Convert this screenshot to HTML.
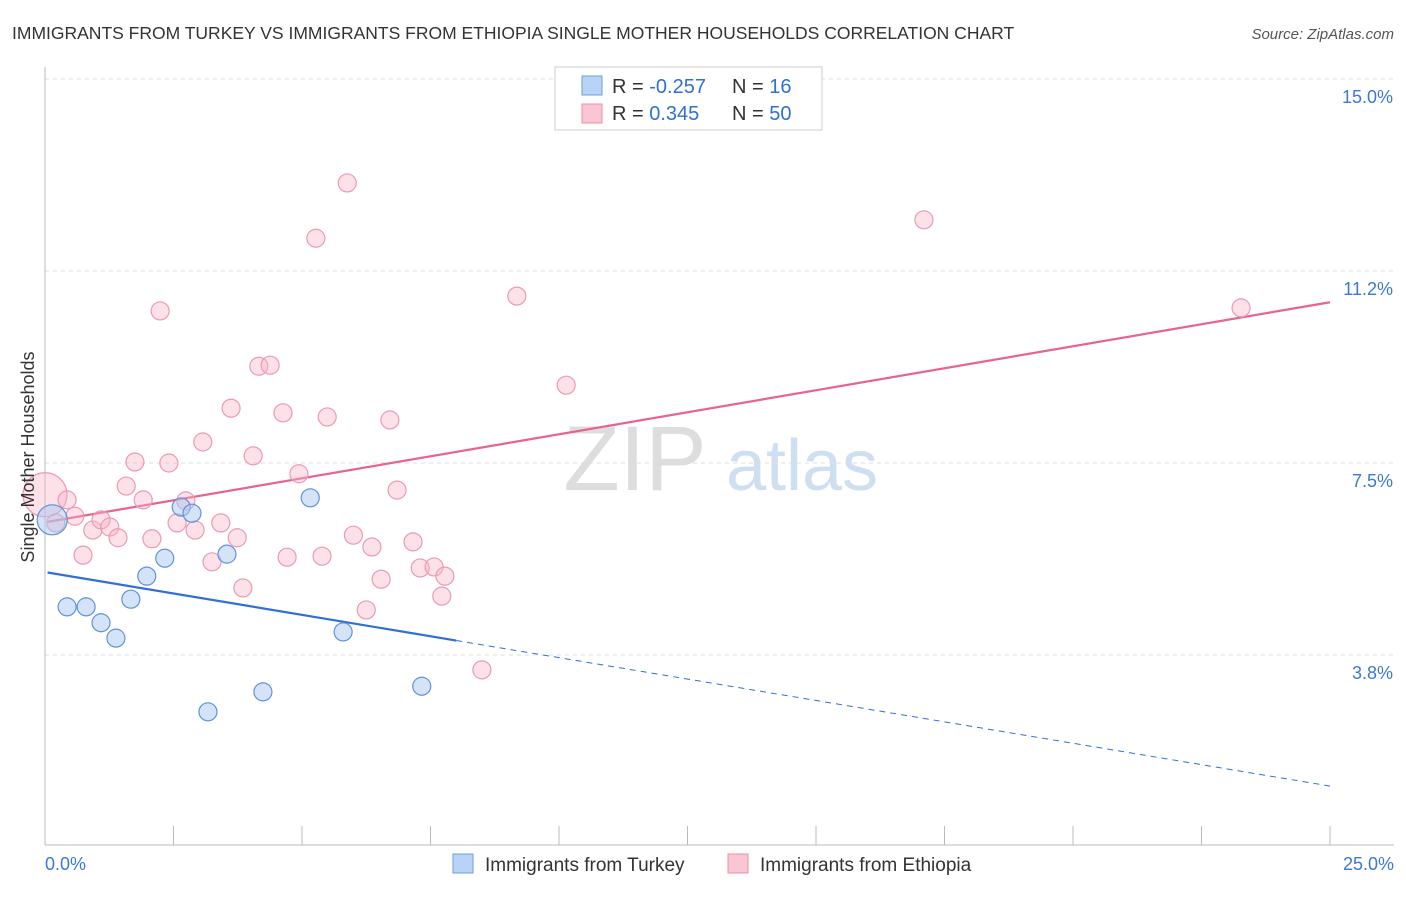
<!DOCTYPE html>
<html><head><meta charset="utf-8"><style>
body{margin:0;background:#fff;font-family:"Liberation Sans",sans-serif}
svg text{font-family:"Liberation Sans",sans-serif}
</style></head><body>
<svg id="chart" width="1406" height="892" xmlns="http://www.w3.org/2000/svg">
<text x="12" y="39" font-size="17.5" fill="#333">IMMIGRANTS FROM TURKEY VS IMMIGRANTS FROM ETHIOPIA SINGLE MOTHER HOUSEHOLDS CORRELATION CHART</text>
<text x="1394" y="39" font-size="15" fill="#555" font-style="italic" text-anchor="end">Source: ZipAtlas.com</text>
<g><text x="635" y="490" font-size="92" fill="#ddd" font-family="Liberation Serif" text-anchor="middle">ZIP</text><text x="802" y="490" font-size="72" fill="#cfdff2" text-anchor="middle">atlas</text></g>
<g id="grid"></g><g id="axes"></g><g id="lines"></g><g id="points"></g>
<text transform="translate(34,457) rotate(-90)" font-size="18" fill="#333" text-anchor="middle">Single Mother Households</text>
<g>
<rect x="555" y="67" width="267" height="63" fill="#fff" stroke="#ccc"/>
<rect x="582" y="76" width="20" height="19" fill="#b8d3f5" stroke="#6e9fe0"/>
<rect x="582" y="104" width="20" height="19" fill="#f9c6d4" stroke="#ea8fab"/>
<text x="612" y="93" font-size="20" fill="#333">R = <tspan fill="#2f6fd6">-0.257</tspan></text>
<text x="732" y="93" font-size="20" fill="#333">N = <tspan fill="#2f6fd6">  16</tspan></text>
<text x="612" y="120" font-size="20" fill="#333">R = <tspan fill="#2f6fd6"> 0.345</tspan></text>
<text x="732" y="120" font-size="20" fill="#333">N = <tspan fill="#2f6fd6">50</tspan></text>
</g>
<g>
<rect x="453" y="854" width="20" height="19" fill="#b8d3f5" stroke="#6e9fe0"/>
<text x="485" y="871" font-size="19" fill="#333">Immigrants from Turkey</text>
<rect x="728" y="854" width="20" height="19" fill="#f9c6d4" stroke="#ea8fab"/>
<text x="760" y="871" font-size="19" fill="#333">Immigrants from Ethiopia</text>
</g>
</svg>
<script>
const yTicks=[3.75,7.5,11.25,15.0];
const yTickLabels=["3.8%","7.5%","11.2%","15.0%"];
const xTicks=[0,2.5,5,7.5,10,12.5,15,17.5,20,22.5,25];
const turkeyX=[0.14,0.43,0.80,1.09,1.38,1.67,1.98,2.33,2.65,2.86,3.17,3.54,4.24,5.16,5.80,7.33];
const turkeyY=[6.39,4.69,4.69,4.38,4.08,4.84,5.29,5.64,6.64,6.52,2.64,5.72,3.03,6.82,4.20,3.14];
const turkeyR=[15,9,9,9,9,9,9,9,9,9,9,9,9,9,9,9];
const ethX=[0,0.21,0.43,0.58,0.74,0.93,1.09,1.26,1.42,1.58,1.75,1.91,2.08,2.24,2.41,2.57,2.74,2.92,3.07,3.25,3.42,3.62,3.74,3.85,4.05,4.16,4.38,4.63,4.71,4.94,5.27,5.39,5.49,5.88,6.00,6.25,6.36,6.54,6.71,6.85,7.16,7.30,7.57,7.72,7.78,8.50,9.18,10.14,17.10,23.27];
const ethY=[6.88,6.33,6.78,6.46,5.70,6.19,6.39,6.25,6.04,7.05,7.52,6.78,6.02,10.47,7.50,6.33,6.76,6.19,7.91,5.57,6.33,8.57,6.04,5.06,7.64,9.39,9.41,8.48,5.66,7.29,11.89,5.68,8.40,12.97,6.09,4.63,5.86,5.23,8.34,6.97,5.96,5.45,5.47,4.90,5.29,3.46,10.76,9.02,12.25,10.53];
const turkeyTrend=[5.37,1.19]; // value at x=0 and x=25
const turkeySolidEnd=8.0;
const ethTrend=[6.35,10.64];
const X=v=>45+v*51.4, Y=v=>655-(v-3.75)*51.2;
const NS="http://www.w3.org/2000/svg";
function mk(tag,attrs,parent){const e=document.createElementNS(NS,tag);for(const k in attrs)e.setAttribute(k,attrs[k]);parent.appendChild(e);return e;}
const grid=document.getElementById('grid'),axes=document.getElementById('axes'),lines=document.getElementById('lines'),pts=document.getElementById('points');
yTicks.forEach((t,i)=>{
 const l=mk('line',{x1:45,x2:1394,y1:Y(t),y2:Y(t),stroke:'#ddd','stroke-dasharray':'4,4'},grid);
 
 
 const tx=mk('text',{x:1393,y:Y(t)+24,'font-size':18,fill:'#3b78d8','text-anchor':'end'},grid);
 tx.textContent=yTickLabels[i];
 
 
});
const ya=mk('line',{x1:45,x2:45,y1:67,y2:845,stroke:'#bbb'},axes);


const xa=mk('line',{x1:45,x2:1394,y1:845,y2:845,stroke:'#bbb'},axes);


xTicks.forEach(t=>{const l=mk('line',{x1:X(t),x2:X(t),y1:826,y2:845,stroke:'#bbb'},axes);
 
 });
const xl0=mk('text',{x:45,y:870,'font-size':18,fill:'#3b78d8'},axes);xl0.textContent='0.0%';


const xl1=mk('text',{x:1394,y:870,'font-size':18,fill:'#3b78d8','text-anchor':'end'},axes);xl1.textContent='25.0%';


ethX.forEach((x,i)=>{const c=mk('circle',{cx:X(x),cy:Y(ethY[i]),r:i==0?22:9,fill:'rgba(248,180,200,0.4)',stroke:'#eb9ab3','stroke-width':1.2},pts);
 
 });
turkeyX.forEach((x,i)=>{const c=mk('circle',{cx:X(x),cy:Y(turkeyY[i]),r:turkeyR[i],fill:'rgba(170,200,240,0.5)',stroke:'#5f92dc','stroke-width':1.2},pts);
 
 });
const ty=x=>turkeyTrend[0]+(turkeyTrend[1]-turkeyTrend[0])*x/25;
const l1=mk('line',{x1:X(0.05),y1:Y(ty(0.05)),x2:X(turkeySolidEnd),y2:Y(ty(turkeySolidEnd)),stroke:'#2f6fd6','stroke-width':2.2},lines);


const l2=mk('line',{x1:X(turkeySolidEnd),y1:Y(ty(turkeySolidEnd)),x2:X(25),y2:Y(ty(25)),stroke:'#2f6fd6','stroke-width':1,'stroke-dasharray':'6,5'},lines);


const l3=mk('line',{x1:X(0.05),y1:Y(ethTrend[0]),x2:X(25),y2:Y(ethTrend[1]),stroke:'#e8638f','stroke-width':2.2},lines);


</script>
</body></html>
